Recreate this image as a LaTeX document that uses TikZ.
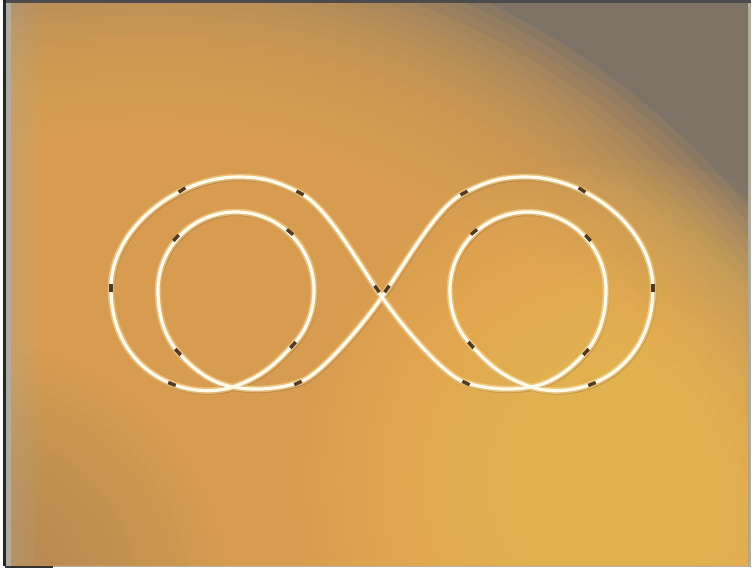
\documentclass[tikz,border=0pt]{standalone}
\usepackage{xcolor}
\usepackage{tikz}
\usetikzlibrary{calc}

\definecolor{boarddark}{RGB}{126,114,102}
\definecolor{boardtan}{RGB}{226,164,80}
\definecolor{boardlight}{RGB}{250,202,98}
\definecolor{boardolive}{RGB}{170,138,84}
\definecolor{framegray}{RGB}{178,172,160}
\definecolor{wirecore}{RGB}{255,251,234}
\definecolor{wireglow}{RGB}{250,224,162}
\definecolor{wireshadow}{RGB}{130,86,38}
\definecolor{notchbrown}{RGB}{82,56,30}

% one lobe of the curve, from the centre crossing back to it
\newcommand{\lobecurve}{(382,297)
  .. controls (360,266) and (328,207) .. (300,193)
  .. controls (275,180) and (260,177) .. (238,177)
  .. controls (178,177) and (111,228) .. (111,288)
  .. controls (111,372) and (185,402) .. (233,387)
  .. controls (265,376) and (278,361) .. (293,345)
  .. controls (308,329) and (314,310) .. (314,290)
  .. controls (314,247) and (279,212) .. (236,212)
  .. controls (193,212) and (158,247) .. (158,290)
  .. controls (158,318) and (166,338) .. (178,352)
  .. controls (192,368) and (210,383) .. (233,387)
  .. controls (255,391) and (280,389) .. (300,382)
  .. controls (322,374) and (365,322) .. (382,297)}

\begin{document}
\begin{tikzpicture}[
    x=1pt,
    y=-1pt,
    wire/.style={
      draw=wirecore,
      line width=3.2pt,
      line cap=round,
      preaction={draw=wireshadow, line width=4.5pt, opacity=.3,
        transform canvas={shift={(1.2,1.8)}}},
      preaction={draw=wireglow, line width=6.5pt, opacity=.55}
    },
    notch/.style={
      draw=notchbrown,
      line width=3.4pt
    }
  ]
  \useasboundingbox (0,0) rectangle (756,571);

  % ========== Frame ==========
  \fill[white] (0,0) rectangle (756,571);
  \fill[framegray] (6,0) rectangle (751,567);
  \fill[black!85] (3,0) rectangle (6,566);
  \fill[black!70] (6,0) rectangle (751,3);
  \fill[black!80] (5,566) rectangle (53,568);

  % ========== Board ==========
  \begin{scope}
    \clip (11,3) rectangle (748,565);
    \fill[boarddark] (11,3) rectangle (748,565);
    \foreach \r in {775,765,...,565}
      \fill[boardtan,opacity=.12] (150,700) circle (\r);
    \foreach \r in {320,310,...,80}
      \fill[boardlight,opacity=.04] (620,480) circle (\r);
    \foreach \r in {260,250,...,60}
      \fill[boardolive,opacity=.04] (-30,600) circle (\r);
    \foreach \w in {6,12,...,30}
      \fill[framegray,opacity=.07] (11,3) rectangle (11+\w,565);
  \end{scope}

  % ========== Curve ==========
  \foreach \s in {1,-1}{
    \begin{scope}[shift={(382,0)}, xscale=\s, shift={(-382,0)}]
      \draw[wire] \lobecurve;
    \end{scope}
  }

  % dark notches along the curve
  \foreach \s in {1,-1}{
    \begin{scope}[shift={(382,0)}, xscale=\s, shift={(-382,0)}]
      \foreach \px/\py/\a in {377/289/55, 182/190/-33, 300/193/28,
          111/288/90, 172/384/22, 298/383/-25, 176/238/-48,
          290/232/40, 178/352/47, 293/345/-48}
        \draw[notch] (\px,\py) ++(\a:-4) -- ++(\a:8);
    \end{scope}
  }
\end{tikzpicture}
\end{document}
